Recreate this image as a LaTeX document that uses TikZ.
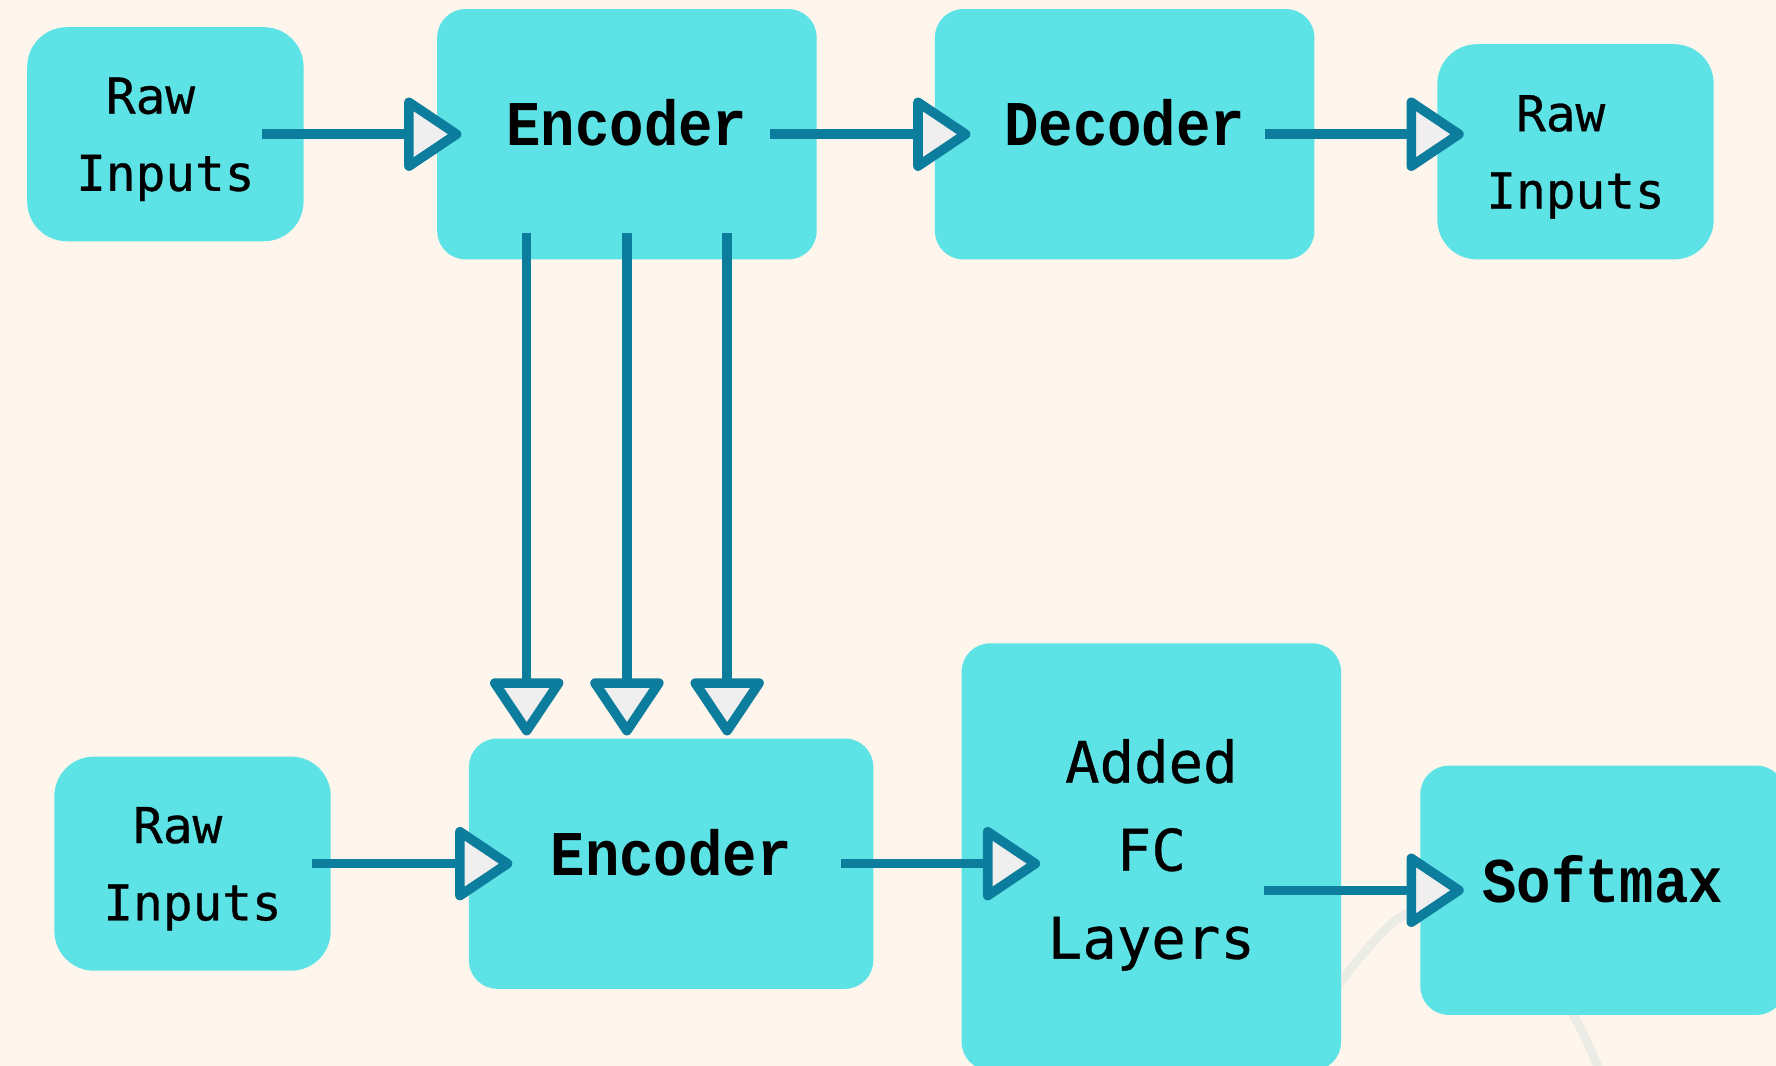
\documentclass[tikz,border=0pt]{standalone}
\usepackage{fontspec}
\usetikzlibrary{calc, arrows.meta, positioning}

\newfontfamily\plainmono[FakeBold=0.6]{DejaVu Sans Mono}
\newfontfamily\slabmono[FakeStretch=0.9]{Liberation Mono}

\definecolor{bgcream}{RGB}{254,245,236}
\definecolor{boxcyan}{RGB}{93,226,230}
\definecolor{linkteal}{RGB}{12,125,156}
\definecolor{tipgray}{RGB}{239,239,239}
\definecolor{ghostgray}{RGB}{236,236,230}

\begin{document}
\begin{tikzpicture}[
    flow/.style={draw=linkteal, line width=2.4pt,
        -{Triangle[length=5.4mm, width=7mm, fill=tipgray, round]}},
    block/.style={rectangle, fill=boxcyan, rounded corners=2.5mm, inner sep=0pt,
        minimum width=3.35cm, minimum height=2.21cm, text=black},
    slab/.style={font=\slabmono\bfseries\fontsize{16}{19}\selectfont,
        text height=9.6pt, text depth=3.7pt},
    inbox/.style={rectangle, fill=boxcyan, rounded corners=3.5mm, inner sep=0pt,
        minimum width=2.44cm, minimum height=1.89cm, align=left, text=black,
        font=\plainmono\fontsize{12.4}{19.4}\selectfont, text depth=0pt}
]

    % Background -------------------------------------------------

    \fill[bgcream] (0,0) rectangle (15.68,-9.41);
    \useasboundingbox (0,0) rectangle (15.68,-9.41);
    \clip (0,0) rectangle (15.68,-9.41);

    \draw[ghostgray, line width=2.2pt] plot[smooth] coordinates
        {(11.70,-8.85) (12.36,-8.10) (13.20,-7.98) (13.89,-8.96) (14.22,-9.70)};

    % Nodes ------------------------------------------------------

    \node[inbox] (raw1) at (1.46,-1.185) {\hphantom{R}Raw\\Inputs};
    \node[block, slab] (enc1) at (5.535,-1.185) {Encoder};
    \node[block, slab, right=1.03 of enc1] (dec) {Decoder};
    \node[inbox, minimum height=1.90cm] (rawout) at (13.91,-1.34) {\hphantom{R}Raw\\Inputs};

    \node[inbox] (raw2) at (1.70,-7.625) {\hphantom{R}Raw\\Inputs};
    \node[block, slab, minimum width=3.57cm] (enc2) at (5.925,-7.625) {Encoder};
    \node[block, minimum height=3.77cm, align=center, text depth=4pt,
        font=\plainmono\fontsize{14.4}{22.1}\selectfont] (fc) at (10.165,-7.565) {Added\\FC\\Layers};
    \node[block, slab, minimum width=3.22cm, minimum height=2.20cm] (soft) at (14.15,-7.86) {Softmax};

    % Arrows ---------------------------------------------------

    \draw[flow] ([xshift=-0.37cm]raw1.east) -- ([xshift=0.22cm]enc1.west);
    \draw[flow] ([xshift=-0.42cm]enc1.east) -- ([xshift=0.32cm]dec.west);
    \draw[flow] ([xshift=-0.44cm]dec.east) -- ([xshift=0.24cm]rawout.west |- dec.east);

    \foreach \dx in {-0.885, 0, 0.885}
        \draw[flow] ([xshift=\dx cm, yshift=0.24cm]enc1.south)
            -- ([xshift=\dx cm, yshift=0.02cm]enc1.south |- enc2.north);

    \draw[flow] ([xshift=-0.17cm]raw2.east) -- ([xshift=0.39cm]enc2.west);
    \draw[flow] ([xshift=-0.29cm]enc2.east) -- ([xshift=0.70cm]fc.west |- enc2.east);
    \draw[flow] ([xshift=-0.69cm]fc.east |- soft.west) -- ([xshift=0.39cm]soft.west);

\end{tikzpicture}
\end{document}
